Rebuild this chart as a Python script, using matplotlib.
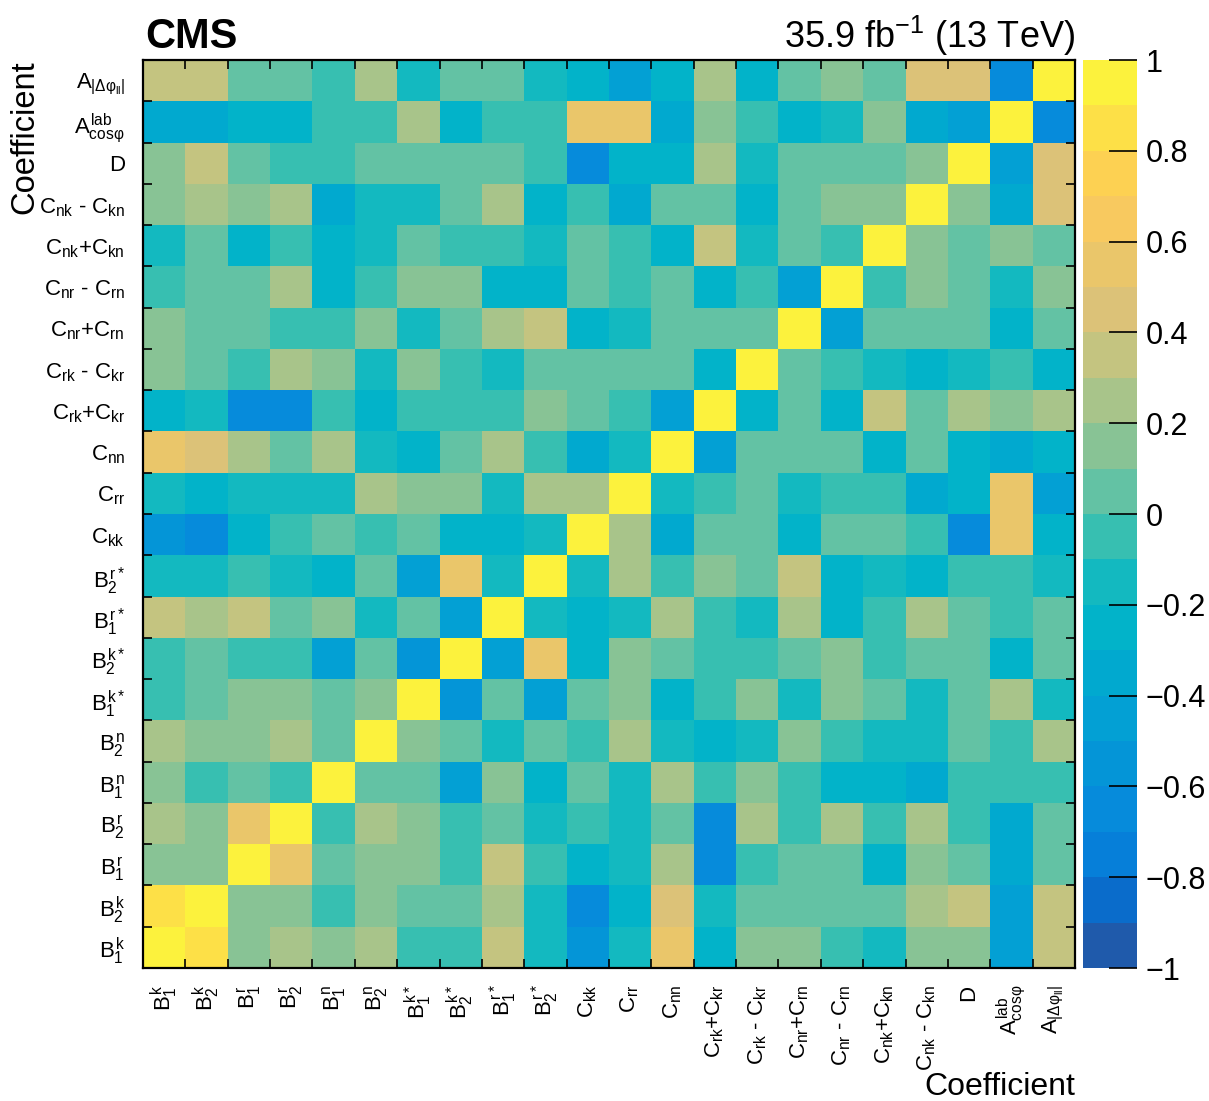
import numpy as np
import matplotlib
matplotlib.use('Agg')
import matplotlib.pyplot as plt
from matplotlib.colors import ListedColormap, BoundaryNorm

plt.rcParams['font.family'] = ['Liberation Sans', 'DejaVu Sans']
plt.rcParams['mathtext.fontset'] = 'custom'
plt.rcParams['mathtext.rm'] = 'Liberation Sans'
plt.rcParams['mathtext.it'] = 'Liberation Sans'
plt.rcParams['mathtext.sf'] = 'Liberation Sans'
plt.rcParams['mathtext.bf'] = 'Liberation Sans:bold'

# coefficient names, same order on both axes
coeff_labels = [
    r'$B^{k}_{1}$', r'$B^{k}_{2}$', r'$B^{r}_{1}$', r'$B^{r}_{2}$',
    r'$B^{n}_{1}$', r'$B^{n}_{2}$',
    r'$B^{k*}_{1}$', r'$B^{k*}_{2}$', r'$B^{r*}_{1}$', r'$B^{r*}_{2}$',
    r'$C_{kk}$', r'$C_{rr}$', r'$C_{nn}$',
    r'$C_{rk}$+$C_{kr}$', r'$C_{rk}$ - $C_{kr}$',
    r'$C_{nr}$+$C_{rn}$', r'$C_{nr}$ - $C_{rn}$',
    r'$C_{nk}$+$C_{kn}$', r'$C_{nk}$ - $C_{kn}$',
    'D', r'$A^{lab}_{cos\varphi}$', r'$A_{|\Delta\varphi_{ll}|}$',
]

# correlation of each coefficient with all others (columns in the order above)
corr_B1k = [1.00, 0.85, 0.15, 0.25, 0.15, 0.25, -0.05, -0.05, 0.35, -0.15, -0.55, -0.15, 0.55, -0.25, 0.15, 0.15, -0.05, -0.15, 0.15, 0.15, -0.45, 0.35]
corr_B2k = [0.85, 1.00, 0.15, 0.15, -0.05, 0.15, 0.05, 0.05, 0.25, -0.15, -0.65, -0.25, 0.45, -0.15, 0.05, 0.05, 0.05, 0.05, 0.25, 0.35, -0.45, 0.35]
corr_B1r = [0.15, 0.15, 1.00, 0.55, 0.05, 0.15, 0.15, -0.05, 0.35, -0.05, -0.25, -0.15, 0.25, -0.65, -0.05, 0.05, 0.05, -0.25, 0.15, 0.05, -0.35, 0.05]
corr_B2r = [0.25, 0.15, 0.55, 1.00, -0.05, 0.25, 0.15, -0.05, 0.05, -0.15, -0.05, -0.15, 0.05, -0.65, 0.25, -0.05, 0.25, -0.05, 0.25, -0.05, -0.35, 0.05]
corr_B1n = [0.15, -0.05, 0.05, -0.05, 1.00, 0.05, 0.05, -0.45, 0.15, -0.25, 0.05, -0.15, 0.25, -0.05, 0.15, -0.05, -0.25, -0.25, -0.35, -0.05, -0.05, -0.05]
corr_B2n = [0.25, 0.15, 0.15, 0.25, 0.05, 1.00, 0.15, 0.05, -0.15, 0.05, -0.05, 0.25, -0.15, -0.25, -0.15, 0.15, -0.05, -0.15, -0.15, 0.05, -0.05, 0.25]
corr_B1ks = [-0.05, 0.05, 0.15, 0.15, 0.05, 0.15, 1.00, -0.55, 0.05, -0.45, 0.05, 0.15, -0.25, -0.05, 0.15, -0.15, 0.15, 0.05, -0.15, 0.05, 0.25, -0.15]
corr_B2ks = [-0.05, 0.05, -0.05, -0.05, -0.45, 0.05, -0.55, 1.00, -0.45, 0.55, -0.25, 0.15, 0.05, -0.05, -0.05, 0.05, 0.15, -0.05, 0.05, 0.05, -0.25, 0.05]
corr_B1rs = [0.35, 0.25, 0.35, 0.05, 0.15, -0.15, 0.05, -0.45, 1.00, -0.15, -0.25, -0.15, 0.25, -0.05, -0.15, 0.25, -0.25, -0.05, 0.25, 0.05, -0.05, 0.05]
corr_B2rs = [-0.15, -0.15, -0.05, -0.15, -0.25, 0.05, -0.45, 0.55, -0.15, 1.00, -0.15, 0.25, -0.05, 0.15, 0.05, 0.35, -0.25, -0.15, -0.25, -0.05, -0.05, -0.15]
corr_Ckk = [-0.55, -0.65, -0.25, -0.05, 0.05, -0.05, 0.05, -0.25, -0.25, -0.15, 1.00, 0.25, -0.35, 0.05, 0.05, -0.25, 0.05, 0.05, -0.05, -0.65, 0.55, -0.25]
corr_Crr = [-0.15, -0.25, -0.15, -0.15, -0.15, 0.25, 0.15, 0.15, -0.15, 0.25, 0.25, 1.00, -0.15, -0.05, 0.05, -0.15, -0.05, -0.05, -0.35, -0.25, 0.55, -0.45]
corr_Cnn = [0.55, 0.45, 0.25, 0.05, 0.25, -0.15, -0.25, 0.05, 0.25, -0.05, -0.35, -0.15, 1.00, -0.45, 0.05, 0.05, 0.05, -0.25, 0.05, -0.25, -0.35, -0.25]
corr_Crk_p = [-0.25, -0.15, -0.65, -0.65, -0.05, -0.25, -0.05, -0.05, -0.05, 0.15, 0.05, -0.05, -0.45, 1.00, -0.25, 0.05, -0.25, 0.35, 0.05, 0.25, 0.15, 0.25]
corr_Crk_m = [0.15, 0.05, -0.05, 0.25, 0.15, -0.15, 0.15, -0.05, -0.15, 0.05, 0.05, 0.05, 0.05, -0.25, 1.00, 0.05, -0.05, -0.15, -0.25, -0.15, -0.05, -0.25]
corr_Cnr_p = [0.15, 0.05, 0.05, -0.05, -0.05, 0.15, -0.15, 0.05, 0.25, 0.35, -0.25, -0.15, 0.05, 0.05, 0.05, 1.00, -0.45, 0.05, 0.05, 0.05, -0.25, 0.05]
corr_Cnr_m = [-0.05, 0.05, 0.05, 0.25, -0.25, -0.05, 0.15, 0.15, -0.25, -0.25, 0.05, -0.05, 0.05, -0.25, -0.05, -0.45, 1.00, -0.05, 0.15, 0.05, -0.15, 0.15]
corr_Cnk_p = [-0.15, 0.05, -0.25, -0.05, -0.25, -0.15, 0.05, -0.05, -0.05, -0.15, 0.05, -0.05, -0.25, 0.35, -0.15, 0.05, -0.05, 1.00, 0.15, 0.05, 0.15, 0.05]
corr_Cnk_m = [0.15, 0.25, 0.15, 0.25, -0.35, -0.15, -0.15, 0.05, 0.25, -0.25, -0.05, -0.35, 0.05, 0.05, -0.25, 0.05, 0.15, 0.15, 1.00, 0.15, -0.35, 0.45]
corr_D = [0.15, 0.35, 0.05, -0.05, -0.05, 0.05, 0.05, 0.05, 0.05, -0.05, -0.65, -0.25, -0.25, 0.25, -0.15, 0.05, 0.05, 0.05, 0.15, 1.00, -0.45, 0.45]
corr_Acos = [-0.35, -0.35, -0.25, -0.25, -0.05, -0.05, 0.25, -0.25, -0.05, -0.05, 0.55, 0.55, -0.35, 0.15, -0.05, -0.25, -0.15, 0.15, -0.35, -0.45, 1.00, -0.65]
corr_Adphi = [0.35, 0.35, 0.05, 0.05, -0.05, 0.25, -0.15, 0.05, 0.05, -0.15, -0.25, -0.45, -0.25, 0.25, -0.25, 0.05, 0.15, 0.05, 0.45, 0.45, -0.65, 1.00]

cbar_ticks = [-1, -0.8, -0.6, -0.4, -0.2, 0, 0.2, 0.4, 0.6, 0.8, 1]
cbar_ticklabels = ['\u22121', '\u22120.8', '\u22120.6', '\u22120.4', '\u22120.2',
                   '0', '0.2', '0.4', '0.6', '0.8', '1']

corr = np.array([corr_B1k, corr_B2k, corr_B1r, corr_B2r, corr_B1n, corr_B2n,
                 corr_B1ks, corr_B2ks, corr_B1rs, corr_B2rs, corr_Ckk, corr_Crr,
                 corr_Cnn, corr_Crk_p, corr_Crk_m, corr_Cnr_p, corr_Cnr_m,
                 corr_Cnk_p, corr_Cnk_m, corr_D, corr_Acos, corr_Adphi])
n = len(coeff_labels)

# 20 contour bands of the palette, from -1 up to +1
band_colors = ['#1f5aab', '#0a6ccb', '#067fd9', '#068bdb', '#0495d7',
               '#03a0d4', '#01a9cf', '#02b3c9', '#13b9c0', '#37bfb1',
               '#63c2a4', '#88c395', '#a8c48a', '#c4c480', '#dcc278',
               '#eac66a', '#f8c95f', '#fdd152', '#fde047', '#fcf23d']
cmap = ListedColormap(band_colors)
cmap.set_over(band_colors[-1])
cmap.set_under(band_colors[0])
norm = BoundaryNorm(np.linspace(-1, 1, 21), cmap.N)

fig = plt.figure(figsize=(12.09, 11.01), dpi=100)
ax = fig.add_axes([143/1209, 1 - 968/1101, 932/1209, 908/1101])
cax = fig.add_axes([1083/1209, 1 - 968/1101, 54/1209, 908/1101])

edges = np.arange(n + 1)
mesh = ax.pcolormesh(edges, edges, corr, cmap=cmap, norm=norm,
                     shading='flat', antialiased=False)
ax.set_xlim(0, n)
ax.set_ylim(0, n)

centers = np.arange(n) + 0.5
ax.set_xticks(centers)
ax.set_xticklabels(coeff_labels, rotation=90, fontsize=16)
ax.set_yticks(centers)
ax.set_yticklabels(coeff_labels, fontsize=16)
ax.tick_params(which='major', length=0)
ax.tick_params(axis='x', which='major', pad=12)
ax.tick_params(axis='y', which='major', pad=13)
ax.set_xticks(edges, minor=True)
ax.set_yticks(edges, minor=True)
ax.tick_params(which='minor', direction='in', length=6.5, width=1.2,
               top=True, right=True, bottom=True, left=True)
for sp in ax.spines.values():
    sp.set_linewidth(1.6)

cb = fig.colorbar(mesh, cax=cax, ticks=cbar_ticks)
cb.outline.set_visible(False)
cb.set_ticklabels(cbar_ticklabels)
cax.minorticks_off()
cax.tick_params(direction='in', length=20, width=1.2, labelsize=22, pad=6)

fig.text(145/1209, 1 - 48/1101, 'CMS', fontsize=30, fontweight='bold',
         ha='left', va='baseline')
fig.text(1075/1209, 1 - 48/1101, r'35.9 fb$^{-1}$ (13 TeV)', fontsize=26,
         ha='right', va='baseline')
fig.text(25/1209, 1 - 60/1101, 'Coefficient', rotation=90, fontsize=23.5,
         ha='center', va='top')
fig.text(1075/1209, 1 - 1087/1101, 'Coefficient', fontsize=23,
         ha='right', va='center')

fig.savefig('out.png', dpi=100)
